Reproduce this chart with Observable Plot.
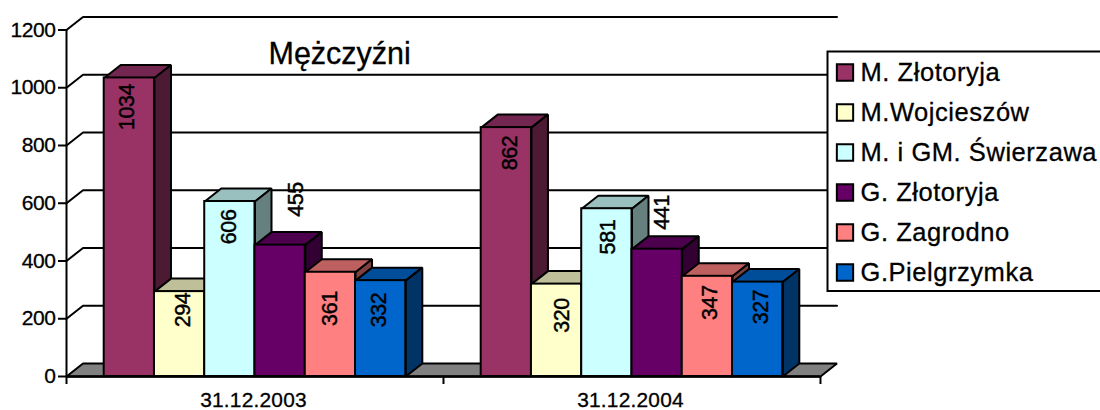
<!DOCTYPE html>
<html><head><meta charset="utf-8">
<script src="https://cdn.jsdelivr.net/npm/d3@7"></script>
<script src="https://cdn.jsdelivr.net/npm/@observablehq/plot@0.6"></script>
<style>
html,body{margin:0;padding:0;background:#fff}
svg text{stroke:#000;stroke-width:.3px}
g[font-size="21.5"] text{letter-spacing:-.4px;stroke-width:.45px}
g[font-size="21"] text{letter-spacing:-.4px}
g[font-size="20.9"] text{letter-spacing:.2px}
g[font-size="25.5"] text{letter-spacing:.55px}
</style></head><body><div id="chart"></div>
<script>
const dates = ["31.12.2003", "31.12.2004"];
const seriesNames = ["M. Złotoryja", "M.Wojcieszów", "M. i GM. Świerzawa", "G. Złotoryja", "G. Zagrodno", "G.Pielgrzymka"];
const values2003 = [1034, 294, 606, 455, 361, 332];
const values2004 = [862, 320, 581, 441, 347, 327];
const yTicks = [0, 200, 400, 600, 800, 1000, 1200];
const colors = ["#993366", "#FFFFCC", "#CCFFFF", "#660066", "#FF8080", "#0066CC"];
const tops = ["#732650", "#BFBF99", "#99BFBF", "#4D004D", "#BF6060", "#004D99"];
const sides = ["#4D1A33", "#808066", "#668080", "#330033", "#804040", "#003366"];
// hand placement of the value labels, px: [dx, dy from bar top]
const labelNudge2003 = [[-2,6],[3.5,1],[-1,8],[15.5,-63],[0,19],[-1.5,12]];
const labelNudge2004 = [[3.5,8],[6,14],[1,11],[5,-54],[3,9],[3,7.5]];

const depthX = 0.0438, depthY = 45;
const barW = 1 / 7.5, gap = 0.75 / 7.5;
const rows = dates.flatMap((date, g) => (g ? values2004 : values2003).map((v, s) => ({
  date, s, v, x1: g + gap + s * barW, x2: g + gap + (s + 1) * barW,
  nudge: (g ? labelNudge2004 : labelNudge2003)[s]
})));
const lw = 2;
const poly = (pts, fill) => Plot.line(pts, {x: d => d[0], y: d => d[1], fill, stroke: "#000", strokeWidth: lw, curve: "linear-closed", strokeLinejoin: "miter"});
const wire = (pts) => Plot.line(pts, {x: d => d[0], y: d => d[1], stroke: "#000", strokeWidth: lw, curve: "linear"});
const xEnd = 2 + depthX;

const barMarks = rows.flatMap(r => [
  poly([[r.x1, r.v], [r.x2, r.v], [r.x2 + depthX, r.v + depthY], [r.x1 + depthX, r.v + depthY]], tops[r.s]),
  poly([[r.x2, 0], [r.x2 + depthX, depthY], [r.x2 + depthX, r.v + depthY], [r.x2, r.v]], sides[r.s]),
  Plot.rect([r], {x1: "x1", x2: "x2", y1: 0, y2: "v", fill: colors[r.s], stroke: "#000", strokeWidth: lw})
]);
const labelMarks = rows.map(r => Plot.text([r], {
  x: d => (d.x1 + d.x2) / 2, y: "v", text: d => String(d.v), rotate: -90, textAnchor: "end", lineAnchor: "middle",
  dx: r.nudge[0], dy: r.nudge[1], fontSize: 21.5, fill: "#000"
}));
const legendLeft = 761;
const legendMarks = seriesNames.flatMap((name, i) => [
  Plot.dot([name], {frameAnchor: "top-left", dx: 778.5, dy: 55.5 + i * 40, symbol: "square", r: 9.2, fill: colors[i], stroke: "#000", strokeWidth: lw}),
  Plot.text([name], {frameAnchor: "top-left", dx: 794, dy: 55.5 + i * 40, text: d => d, textAnchor: "start", lineAnchor: "middle", fontSize: 25.5, fill: "#000"})
]);

const chart = Plot.plot({
  width: 1100, height: 410, marginLeft: 66, marginRight: 263.5, marginTop: 16.5, marginBottom: 34,
  style: {fontFamily: "Liberation Sans", background: "#fff", color: "#000"},
  x: {domain: [0, xEnd], range: [66, 836.5], axis: null},
  y: {domain: [0, 1200 + depthY], range: [376, 16.5], axis: null},
  marks: [
    poly([[0, 0], [depthX, depthY], [xEnd, depthY], [2, 0]], "#808080"),
    ...yTicks.slice(1).map(t => wire([[0, t], [depthX, t + depthY], [xEnd, t + depthY]])),
    ...barMarks,
    Plot.ruleY([0], {x1: 0, x2: 2, stroke: "#000", strokeWidth: 2.5}),
    Plot.ruleX([0], {y1: 0, y2: 1200, stroke: "#000", strokeWidth: lw}),
    Plot.axisY(yTicks, {anchor: "left", tickSize: 8, tickPadding: 3, fontSize: 21, tickFormat: "d", label: null, stroke: "#000", strokeWidth: lw, strokeOpacity: 1, fill: "#000"}),
    Plot.ruleX([0, 1, 2], {y1: 0, y2: 0, insetBottom: -8, stroke: "#000", strokeWidth: lw}),
    Plot.text(dates, {x: (d, i) => i + 0.5, y: 0, dy: 24, dx: -1.5, text: d => d, fontSize: 20.9, fill: "#000", lineAnchor: "middle"}),
    ...labelMarks,
    Plot.text(["Mężczyźni"], {frameAnchor: "top-left", dx: 202, dy: 37, text: d => d, textAnchor: "start", lineAnchor: "middle", fontSize: 30.5, fill: "#000"}),
    Plot.frame({fill: "#fff", stroke: "#000", strokeWidth: lw, insetLeft: legendLeft, insetRight: -280, insetTop: 34.5, insetBottom: 85.5}),
    ...legendMarks
  ]
});
document.getElementById("chart").appendChild(chart);
</script></body></html>
